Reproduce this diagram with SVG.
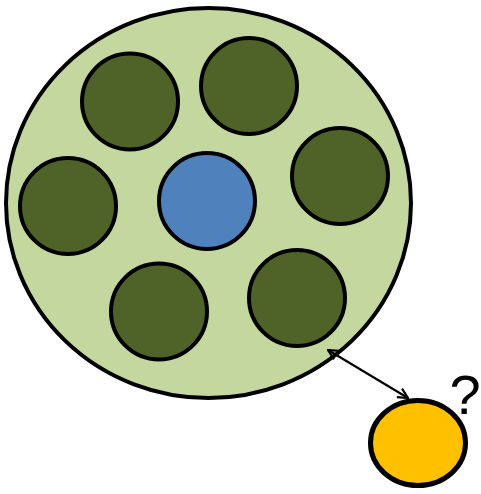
<svg xmlns="http://www.w3.org/2000/svg" width="481" height="494" viewBox="0 0 481 494">
<style>
.o{stroke:#000;stroke-width:4}
.d{fill:#4F6228}
.c{stroke:#000;stroke-width:2.2;fill:none}
</style>
<defs>
<marker id="a" viewBox="0 0 12 12" refX="11" refY="6" markerWidth="12" markerHeight="12" markerUnits="userSpaceOnUse" orient="auto-start-reverse">
<path d="M1,1 L11,6 L1,11" fill="none" stroke="#000" stroke-width="2.2"/>
</marker>
</defs>
<g id="outer"><ellipse class="o" cx="208.5" cy="203" rx="202.5" ry="195" fill="#C4D79F"/></g>
<g id="n1"><circle class="o d" cx="130" cy="101.5" r="48"/></g>
<g id="n2"><circle class="o d" cx="249" cy="86" r="48"/></g>
<g id="n3"><circle class="o d" cx="340" cy="176" r="48"/></g>
<g id="n4"><circle class="o d" cx="68" cy="206" r="48"/></g>
<g id="center"><circle class="o" cx="207" cy="201" r="48" fill="#4F81BD"/></g>
<g id="n5"><circle class="o d" cx="159" cy="311.5" r="48"/></g>
<g id="n6"><circle class="o d" cx="297" cy="298" r="48"/></g>
<g id="external"><ellipse cx="418" cy="443" rx="47.5" ry="42.5" fill="#FFC000" stroke="#000" stroke-width="5"/></g>
<g id="connectors"><line class="c" x1="328" y1="350" x2="408" y2="398" marker-start="url(#a)" marker-end="url(#a)"/></g>
<g id="label"><text x="465" y="414" font-family="Liberation Sans, Arial, sans-serif" font-size="56" text-anchor="middle">?</text></g>
</svg>
